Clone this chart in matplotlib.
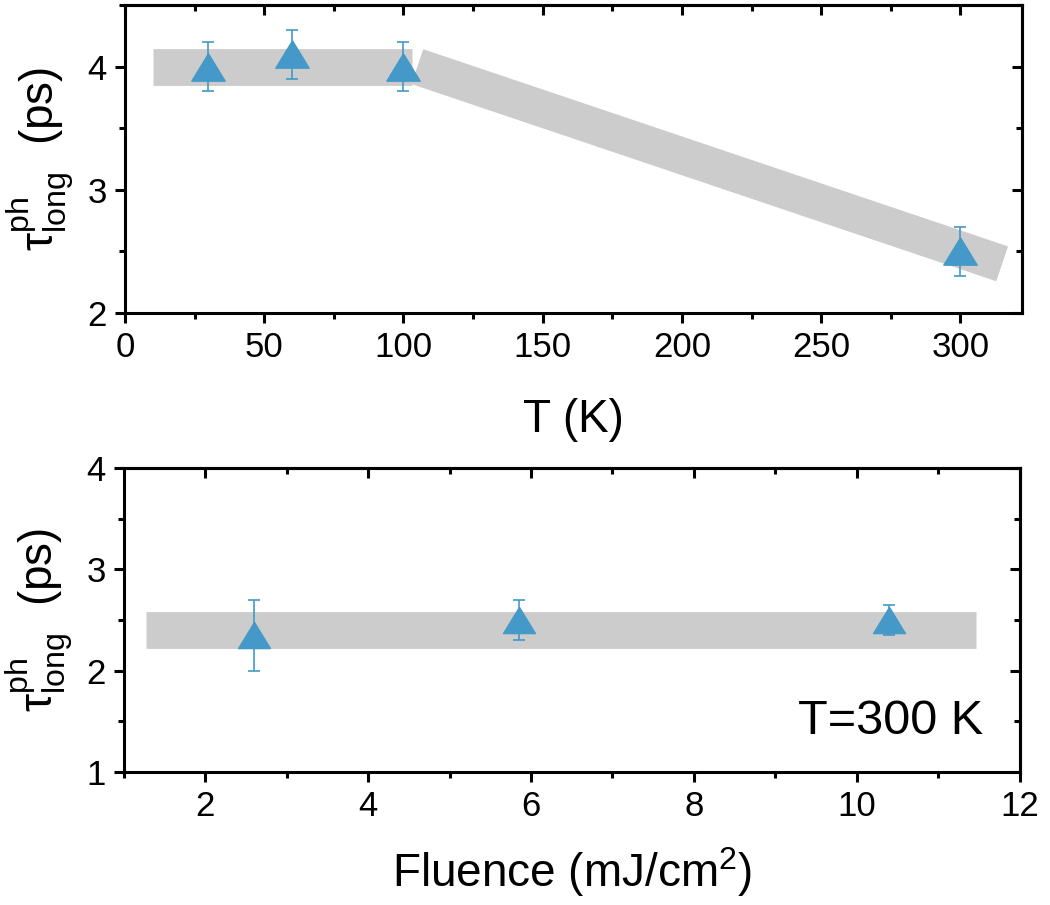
import numpy as np
import matplotlib
matplotlib.use("Agg")
import matplotlib.pyplot as plt
from matplotlib.ticker import MultipleLocator

plt.rcParams['font.family'] = ['Liberation Sans', 'DejaVu Sans']
plt.rcParams['mathtext.fontset'] = 'custom'
plt.rcParams['mathtext.rm'] = 'Liberation Sans'
plt.rcParams['mathtext.it'] = 'Liberation Sans'

# top panel: temperature dependence
temp_K = [30, 60, 100, 300]
tau_T = [4.0, 4.1, 4.0, 2.5]
tau_T_err = [0.2, 0.2, 0.2, 0.2]
# guide bands (x, y) - flat part and slope part
band_flat_x = [10, 103]
band_flat_y = [4.0, 4.0]
band_slope_x = [105, 315]
band_slope_y = [4.0, 2.4]

# bottom panel: fluence dependence at 300 K
fluence = [2.6, 5.85, 10.4]
tau_F = [2.35, 2.5, 2.5]
tau_F_err = [0.35, 0.2, 0.15]
band_F_x = [1.27, 11.46]
band_F_y = [2.4, 2.4]

BLUE = '#4499c8'
GRAY = '#cccccc'
YLAB = r'$\mathrm{\tau}^{\mathrm{ph}}_{\mathrm{long}}$  (ps)'
# squat triangle, a bit wider than tall
TRI = [(0, 0.82), (-1, -0.82), (1, -0.82), (0, 0.82)]

fig = plt.figure(figsize=(10.5, 9.05), dpi=100)
ax1 = fig.add_axes([0.119, 0.654, 0.854, 0.3405])
ax2 = fig.add_axes([0.118, 0.147, 0.853, 0.336])


def style(ax, xmaj, xmin, ymaj, ymin):
    for s in ax.spines.values():
        s.set_linewidth(2.2)
    ax.xaxis.set_major_locator(MultipleLocator(xmaj))
    ax.xaxis.set_minor_locator(MultipleLocator(xmin))
    ax.yaxis.set_major_locator(MultipleLocator(ymaj))
    ax.yaxis.set_minor_locator(MultipleLocator(ymin))
    ax.tick_params(which='major', direction='out', length=7, width=2.2, labelsize=25, pad=6)
    ax.tick_params(which='minor', direction='out', length=4, width=2.2)
    # mirrored ticks pointing inward on top and right
    top = ax.secondary_xaxis('top')
    right = ax.secondary_yaxis('right')
    top.xaxis.set_major_locator(MultipleLocator(xmaj))
    top.xaxis.set_minor_locator(MultipleLocator(xmin))
    right.yaxis.set_major_locator(MultipleLocator(ymaj))
    right.yaxis.set_minor_locator(MultipleLocator(ymin))
    for sec in (top, right):
        sec.tick_params(which='major', direction='in', length=7, width=2.2,
                        labeltop=False, labelright=False)
        sec.tick_params(which='minor', direction='in', length=4, width=2.2)
        for s in sec.spines.values():
            s.set_linewidth(2.2)


# top panel
ax1.plot(band_flat_x, band_flat_y, color=GRAY, lw=26.5, solid_capstyle='butt', zorder=1)
ax1.plot(band_slope_x, band_slope_y, color=GRAY, lw=26.5, solid_capstyle='butt', zorder=1)
ax1.errorbar(temp_K, tau_T, yerr=tau_T_err, fmt='none', ecolor=BLUE,
             elinewidth=1.2, capsize=4.5, capthick=1.2, zorder=2)
ax1.plot(temp_K, tau_T, ls='none', marker=TRI, ms=24, color=BLUE, zorder=3)
ax1.set_xlim(0, 322)
ax1.set_ylim(2, 4.5)
style(ax1, 50, 25, 1, 0.5)
ax1.set_xlabel('T (K)', fontsize=33, labelpad=24)
ax1.set_ylabel(YLAB, fontsize=33, labelpad=8)

# bottom panel
ax2.plot(band_F_x, band_F_y, color=GRAY, lw=26.5, solid_capstyle='butt', zorder=1)
ax2.errorbar(fluence, tau_F, yerr=tau_F_err, fmt='none', ecolor=BLUE,
             elinewidth=1.2, capsize=4.5, capthick=1.2, zorder=2)
ax2.plot(fluence, tau_F, ls='none', marker=TRI, ms=23, color=BLUE, zorder=3)
ax2.set_xlim(1, 12)
ax2.set_ylim(1, 4)
style(ax2, 2, 1, 1, 0.5)
ax2.set_xlabel('Fluence (mJ/cm$^{2}$)', fontsize=33, labelpad=16)
ax2.set_ylabel(YLAB, fontsize=33, labelpad=8)
ax2.text(11.55, 1.5, 'T=300 K', fontsize=35, ha='right', va='center')

fig.savefig('out.png', dpi=100)
